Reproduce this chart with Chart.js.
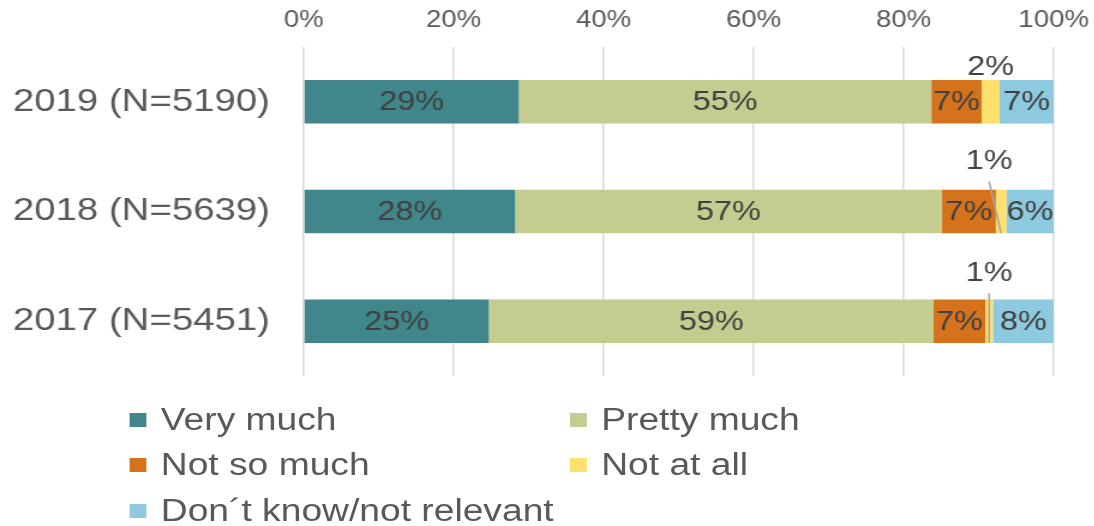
<!DOCTYPE html>
<html>
<head>
<meta charset="utf-8">
<script src="https://cdn.jsdelivr.net/npm/chart.js@4"></script>
<style>
    html, body { margin: 0; padding: 0; background: #fff; overflow: hidden; }
    /* the reference is a slightly wide-stretched picture, so draw narrow and stretch */
    #stage {
        position: absolute; left: 0; top: 0;
        width: 912px; height: 526px;
        transform: scaleX(1.2); transform-origin: 0 0;
        font-family: "Liberation Sans", Arial, sans-serif;
    }
    #surveyChart { position: absolute; left: 0; top: 0; display: block; }
    .item {
        position: absolute; height: 36px;
        display: flex; align-items: center;
        font-size: 31px; color: #595959; white-space: nowrap;
    }
    .box { width: 14px; height: 14px; margin-right: 12px; }
</style>
</head>
<body>
<div id="stage">
    <canvas id="surveyChart" width="912" height="390"></canvas>
    <div id="legend"></div>
</div>
<script>
// Survey answers by year, percent of respondents

const years = ['2019 (N=5190)', '2018 (N=5639)', '2017 (N=5451)'];
const seriesNames = ['Very much', 'Pretty much', 'Not so much', 'Not at all', 'Don´t know/not relevant'];
const veryMuch   = [28.7, 28.2, 24.7];
const prettyMuch = [55.0, 56.9, 59.3];
const notSoMuch  = [6.7, 7.2, 6.9];
const notAtAll   = [2.4, 1.4, 1.0];
const dontKnow   = [7.2, 6.3, 8.1];
const xTicks     = [0, 20, 40, 60, 80, 100];

const seriesColors = ['#41868b', '#c5cc8f', '#d5731d', '#ffdf6e', '#8ecadf'];

// where the legend entries sit (x, y centre), in the un-stretched frame
const legendSlots = [
    { x: 108, y: 420 }, { x: 475, y: 420 },
    { x: 108, y: 465 }, { x: 475, y: 465 },
    { x: 108, y: 511 }
];

/**
 * Percent labels on the bars, small "Not at all" values lifted above
 */
const barLabels = {
    id: 'barLabels',
    afterDatasetsDraw(chart, args, opts) {
        const ctx = chart.ctx;
        ctx.save();
        ctx.font = opts.font;
        ctx.fillStyle = opts.color;
        ctx.textAlign = 'center';
        ctx.textBaseline = 'middle';
        chart.data.datasets.forEach((ds, i) => {
            chart.getDatasetMeta(i).data.forEach((bar, j) => {
                const text = Math.round(ds.data[j]) + '%';
                const cx = (bar.x + bar.base) / 2;
                const cy = bar.y;
                if (i === opts.outside.dataset) {
                    const o = opts.outside;
                    const tx = cx + o.dx[j];
                    const ty = cy - o.lift[j];
                    if (o.leader[j]) {
                        ctx.save();
                        ctx.strokeStyle = '#a6a6a6';
                        ctx.lineWidth = 1.5;
                        ctx.beginPath();
                        ctx.moveTo(tx, ty + 20);
                        ctx.lineTo(cx, cy + bar.height / 2);
                        ctx.stroke();
                        ctx.restore();
                    }
                    ctx.fillText(text, tx, ty);
                } else {
                    ctx.fillText(text, cx, cy + 1);
                }
            });
        });
        ctx.restore();
    }
};

const seriesData = [veryMuch, prettyMuch, notSoMuch, notAtAll, dontKnow];

const chart = new Chart(document.getElementById('surveyChart'), {
    type: 'bar',
    data: {
        labels: years,
        datasets: seriesNames.map((name, i) => ({
            label: name,
            data: seriesData[i],
            backgroundColor: seriesColors[i],
            borderWidth: 0,
            barPercentage: 0.397,
            categoryPercentage: 1
        }))
    },
    options: {
        indexAxis: 'y',
        responsive: false,
        animation: false,
        devicePixelRatio: 1,
        layout: { padding: { left: 0, right: 34, top: 0, bottom: 14 } },
        plugins: {
            legend: { display: false },
            tooltip: { enabled: false },
            barLabels: {
                font: '27px "Liberation Sans", Arial, sans-serif',
                color: '#404040',
                outside: {
                    dataset: 3,
                    lift: [34, 50, 48],
                    dx: [0, -10, 0],
                    leader: [false, true, true]
                }
            }
        },
        scales: {
            x: {
                position: 'top',
                stacked: true,
                min: 0,
                max: 100,
                afterBuildTicks: axis => { axis.ticks = xTicks.map(v => ({ value: v })); },
                afterFit: axis => {
                    axis.height = 47;
                    axis.paddingLeft = 0;
                    axis.paddingRight = 0;
                },
                ticks: {
                    padding: 13,
                    color: '#595959',
                    font: { family: '"Liberation Sans", Arial, sans-serif', size: 23 },
                    callback: v => v + '%'
                },
                grid: { color: '#d9d9d9', lineWidth: 1.5, drawTicks: false },
                border: { display: false }
            },
            y: {
                stacked: true,
                afterFit: axis => {
                    axis.width = 253;
                    // big label padding should not shrink the plot vertically
                    axis.paddingTop = 0;
                    axis.paddingBottom = 0;
                },
                ticks: {
                    padding: 28,
                    color: '#595959',
                    font: { family: '"Liberation Sans", Arial, sans-serif', size: 32 }
                },
                grid: { display: false, drawTicks: false },
                border: { display: false }
            }
        }
    },
    plugins: [barLabels]
});

// HTML legend built from the chart's datasets
const legendEl = document.getElementById('legend');
chart.data.datasets.forEach((ds, i) => {
    const item = document.createElement('div');
    item.className = 'item';
    item.style.left = legendSlots[i].x + 'px';
    item.style.top = (legendSlots[i].y - 18) + 'px';
    const box = document.createElement('span');
    box.className = 'box';
    box.style.background = ds.backgroundColor;
    const label = document.createElement('span');
    label.textContent = ds.label;
    item.appendChild(box);
    item.appendChild(label);
    legendEl.appendChild(item);
});
</script>
</body>
</html>
